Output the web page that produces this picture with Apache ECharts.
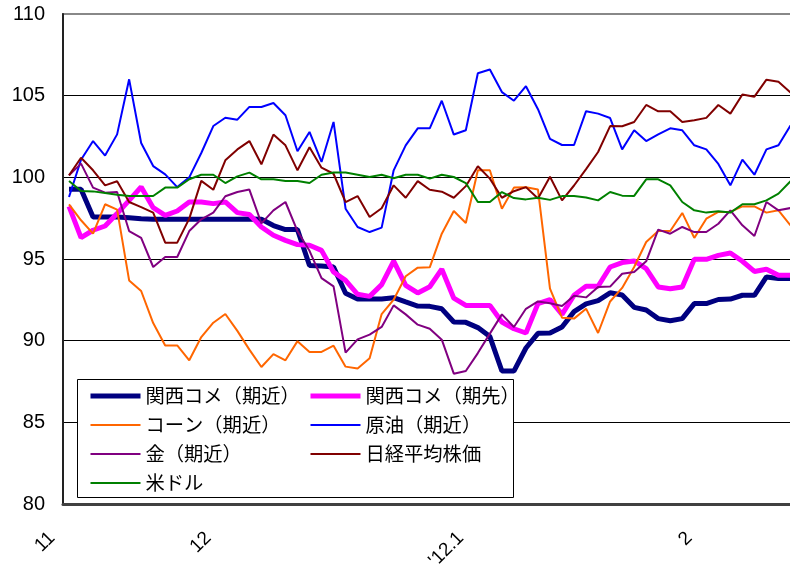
<!DOCTYPE html>
<html>
<head>
<meta charset="utf-8">
<title>商品・指数の推移</title>
<script src="https://cdn.jsdelivr.net/npm/echarts@6/dist/echarts.min.js"></script>
<style>
	body { margin: 0; background: #fff; }
	#main { width: 790px; height: 566px; }
</style>
</head>
<body>
<div id="main"></div>
<script>
	// 営業日 (2011/11/11 ～ 2012/2/10)
	var dates = [
		'2011-11-11', '2011-11-14', '2011-11-15', '2011-11-16', '2011-11-17', '2011-11-18', '2011-11-21',
		'2011-11-22', '2011-11-24', '2011-11-25', '2011-11-28', '2011-11-29', '2011-11-30',
		'2011-12-01', '2011-12-02', '2011-12-05', '2011-12-06', '2011-12-07', '2011-12-08', '2011-12-09',
		'2011-12-12', '2011-12-13', '2011-12-14', '2011-12-15', '2011-12-16', '2011-12-19', '2011-12-20',
		'2011-12-21', '2011-12-22', '2011-12-26', '2011-12-27', '2011-12-28', '2011-12-29', '2011-12-30',
		'2012-01-04', '2012-01-05', '2012-01-06', '2012-01-10', '2012-01-11', '2012-01-12', '2012-01-13',
		'2012-01-16', '2012-01-17', '2012-01-18', '2012-01-19', '2012-01-20', '2012-01-23', '2012-01-24',
		'2012-01-25', '2012-01-26', '2012-01-27', '2012-01-30', '2012-01-31',
		'2012-02-01', '2012-02-02', '2012-02-03', '2012-02-06', '2012-02-07', '2012-02-08', '2012-02-09',
		'2012-02-10'
	];
	// 月の目盛りラベル
	var monthLabels = ['11', '12', '\'12.1', '2'];
	var yTicks = [80, 85, 90, 95, 100, 105, 110];

	var kansaiNear = [99.27, 99.27, 97.57, 97.57, 97.57, 97.53, 97.47, 97.43, 97.43, 97.43, 97.43, 97.43, 97.43, 97.43, 97.43, 97.45,
		97.43, 97.05, 96.8, 96.8, 94.6, 94.57, 94.51, 92.9, 92.55, 92.55, 92.55, 92.63, 92.37, 92.12, 92.1, 91.95, 91.14, 91.12,
		90.8, 90.25, 88.14, 88.14, 89.55, 90.45, 90.47, 90.84, 91.78, 92.25, 92.45, 92.93, 92.8, 92.04, 91.88, 91.35, 91.22,
		91.35, 92.27, 92.27, 92.52, 92.55, 92.78, 92.78, 93.9, 93.8, 93.8];
	var kansaiFut = [98.22, 96.31, 96.76, 97.02, 97.78, 98.59, 99.41, 98.14, 97.67, 97.94, 98.49, 98.49, 98.39, 98.49, 97.84, 97.73,
		96.96, 96.45, 96.14, 95.88, 95.84, 95.53, 94.2, 93.69, 92.84, 92.71, 93.43, 94.87, 93.39, 92.92, 93.3, 94.38, 92.6, 92.16,
		92.16, 92.16, 91.14, 90.73, 90.47, 92.27, 92.51, 91.61, 92.78, 93.33, 93.33, 94.51, 94.78, 94.88, 94.41, 93.29, 93.18,
		93.29, 94.98, 94.98, 95.22, 95.37, 94.86, 94.24, 94.37, 94.0, 94.0];
	var corn = [98.35, 97.37, 96.55, 98.35, 98.02, 93.69, 93.04, 91.08, 89.71, 89.71, 88.8, 90.22, 91.1, 91.63, 90.6, 89.45, 88.39,
		89.18, 88.8, 89.97, 89.31, 89.31, 89.69, 88.41, 88.29, 88.92, 91.63, 92.51, 93.94, 94.47, 94.49, 96.55, 97.94, 97.2,
		100.43, 100.43, 98.08, 99.37, 99.39, 99.25, 93.18, 91.41, 91.35, 91.96, 90.47, 92.4, 93.23, 94.51, 96.04, 96.71, 96.71,
		97.82, 96.29, 97.47, 97.88, 97.88, 98.22, 98.22, 97.84, 97.98, 97.06];
	var crudeOil = [98.8, 101.08, 102.22, 101.33, 102.63, 106.0, 102.1, 100.69, 100.18, 99.4, 100.0, 101.49, 103.14, 103.65, 103.53,
		104.31, 104.31, 104.55, 103.8, 101.6, 102.78, 100.94, 103.39, 98.08, 96.96, 96.65, 96.92, 100.43, 101.96, 103.0, 103.0,
		104.69, 102.62, 102.88, 106.37, 106.6, 105.22, 104.69, 105.58, 104.17, 102.35, 101.98, 101.98, 104.05, 103.9, 103.63,
		101.71, 102.88, 102.22, 102.63, 103.0, 102.88, 101.96, 101.71, 100.82, 99.51, 101.08, 100.16, 101.71, 101.96, 103.18];
	var gold = [100.12, 100.84, 99.37, 99.06, 99.1, 96.71, 96.29, 94.51, 95.12, 95.12, 96.71, 97.43, 97.84, 98.84, 99.1, 99.25,
		97.18, 97.98, 98.49, 96.7, 95.5, 93.83, 93.32, 89.27, 90.08, 90.37, 90.84, 92.16, 91.61, 90.98, 90.73, 90.06, 87.98,
		88.14, 89.24, 90.43, 91.61, 90.84, 91.95, 92.4, 92.29, 92.12, 92.75, 92.65, 93.29, 93.31, 94.1, 94.2, 94.86, 96.8, 96.55,
		96.96, 96.65, 96.65, 97.16, 97.98, 97.06, 96.41, 98.49, 97.98, 98.12];
	var nikkei = [100.12, 101.2, 100.43, 99.51, 99.76, 98.49, 98.18, 97.84, 96.0, 96.0, 97.47, 99.78, 99.24, 101.04, 101.71, 102.22,
		100.8, 102.62, 101.96, 100.43, 101.84, 100.59, 100.22, 98.48, 98.85, 97.57, 98.11, 99.51, 98.75, 99.77, 99.24, 99.12,
		98.75, 99.46, 100.68, 99.92, 98.75, 99.15, 99.4, 98.7, 100.04, 98.59, 99.5, 100.5, 101.55, 103.14, 103.13, 103.39,
		104.43, 104.04, 104.04, 103.39, 103.5, 103.64, 104.43, 103.9, 105.07, 104.94, 105.98, 105.85, 105.2];
	var usd = [99.78, 99.16, 99.14, 99.04, 98.94, 98.86, 98.86, 98.86, 99.37, 99.37, 99.88, 100.16, 100.16, 99.65, 100.06, 100.29,
		99.88, 99.88, 99.78, 99.78, 99.65, 100.16, 100.29, 100.29, 100.16, 100.02, 100.16, 99.94, 100.16, 100.16, 99.92, 100.16,
		100.02, 99.65, 98.49, 98.49, 99.1, 98.73, 98.65, 98.75, 98.62, 98.85, 98.85, 98.77, 98.59, 99.1, 98.88, 98.86, 99.88,
		99.88, 99.51, 98.49, 97.98, 97.84, 97.92, 97.84, 98.35, 98.35, 98.59, 99.0, 99.76];

	// 月初の位置を求める
	var monthStarts = [];
	for (var i = 0; i < dates.length; i++) {
		if (i == 0 || dates[i].substr(5, 2) != dates[i - 1].substr(5, 2)) {
			monthStarts.push(i);
		}
	}

	var jpFont = '"Noto Sans CJK JP", sans-serif';
	var numFont = '"Liberation Sans", Arial, sans-serif';

	function lineSeries(name, data, color, width) {
		return {
			name: name,
			type: 'line',
			data: data,
			symbol: 'none',
			smooth: false,
			lineStyle: {
				color: color,
				width: width
			},
			itemStyle: {
				color: color
			}
		};
	}

	// 凡例の項目 (線だけ表示)
	function legendItem(name, width) {
		return { name: name, lineStyle: { width: width }, itemStyle: { opacity: 0 } };
	}

	function legendCol(left, items) {
		return {
			left: left,
			top: 386,
			orient: 'vertical',
			padding: 0,
			itemWidth: 50,
			itemHeight: 20,
			itemGap: 9,
			selectedMode: false,
			textStyle: {
				fontFamily: jpFont,
				fontSize: 19.3,
				lineHeight: 20,
				color: '#000'
			},
			data: items
		};
	}

	var myCharts = echarts.init(document.getElementById('main'));
	var option = {
		animation: false,
		backgroundColor: '#fff',
		grid: {
			left: 63,
			right: -6.5,
			top: 14,
			bottom: 62,
			outerBoundsMode: 'none',
			containLabel: false,
			show: true,
			borderColor: '#888',
			borderWidth: 2
		},
		legend: [
			legendCol(88, [
				legendItem('関西コメ（期近）', 5),
				legendItem('コーン（期近）', 2),
				legendItem('金（期近）', 2),
				legendItem('米ドル', 2)
			]),
			legendCol(308, [
				legendItem('関西コメ（期先）', 5),
				legendItem('原油（期近）', 2),
				legendItem('日経平均株価', 2)
			])
		],
		// 凡例の枠
		graphic: [{
			type: 'rect',
			z: 3,
			shape: { x: 77.5, y: 379.5, width: 436, height: 118 },
			style: { fill: '#fff', stroke: '#000', lineWidth: 1 }
		}],
		xAxis: {
			type: 'category',
			data: dates,
			boundaryGap: true,
			axisLine: {
				lineStyle: { color: '#404040', width: 3 }
			},
			axisTick: { show: false },
			splitLine: { show: false },
			axisLabel: {
				interval: function(index) {
					return monthStarts.indexOf(index) >= 0;
				},
				formatter: function(value, index) {
					return monthLabels[monthStarts.indexOf(index)];
				},
				rotate: 45,
				margin: 14,
				padding: [0, 24, 0, 0],
				fontFamily: numFont,
				fontSize: 19,
				color: '#000'
			}
		},
		yAxis: {
			type: 'value',
			min: yTicks[0],
			max: yTicks[yTicks.length - 1],
			interval: 5,
			axisLine: {
				show: true,
				lineStyle: { color: '#222', width: 2 }
			},
			axisTick: { show: false },
			splitLine: {
				lineStyle: {
					color: ['#000', '#000', '#000', '#000', '#000', '#000', '#888'],
					width: 1
				}
			},
			axisLabel: {
				margin: 18,
				fontFamily: numFont,
				fontSize: 20,
				color: '#000'
			}
		},
		series: [
			lineSeries('関西コメ（期近）', kansaiNear, '#000080', 5),
			lineSeries('関西コメ（期先）', kansaiFut, '#FF00FF', 5),
			lineSeries('コーン（期近）', corn, '#FF6600', 2),
			lineSeries('原油（期近）', crudeOil, '#0000FF', 2),
			lineSeries('金（期近）', gold, '#800080', 2),
			lineSeries('日経平均株価', nikkei, '#800000', 2),
			lineSeries('米ドル', usd, '#008000', 2)
		]
	};
	myCharts.setOption(option);

	window.onresize = function() {
		myCharts.resize();
	};
</script>
</body>
</html>
